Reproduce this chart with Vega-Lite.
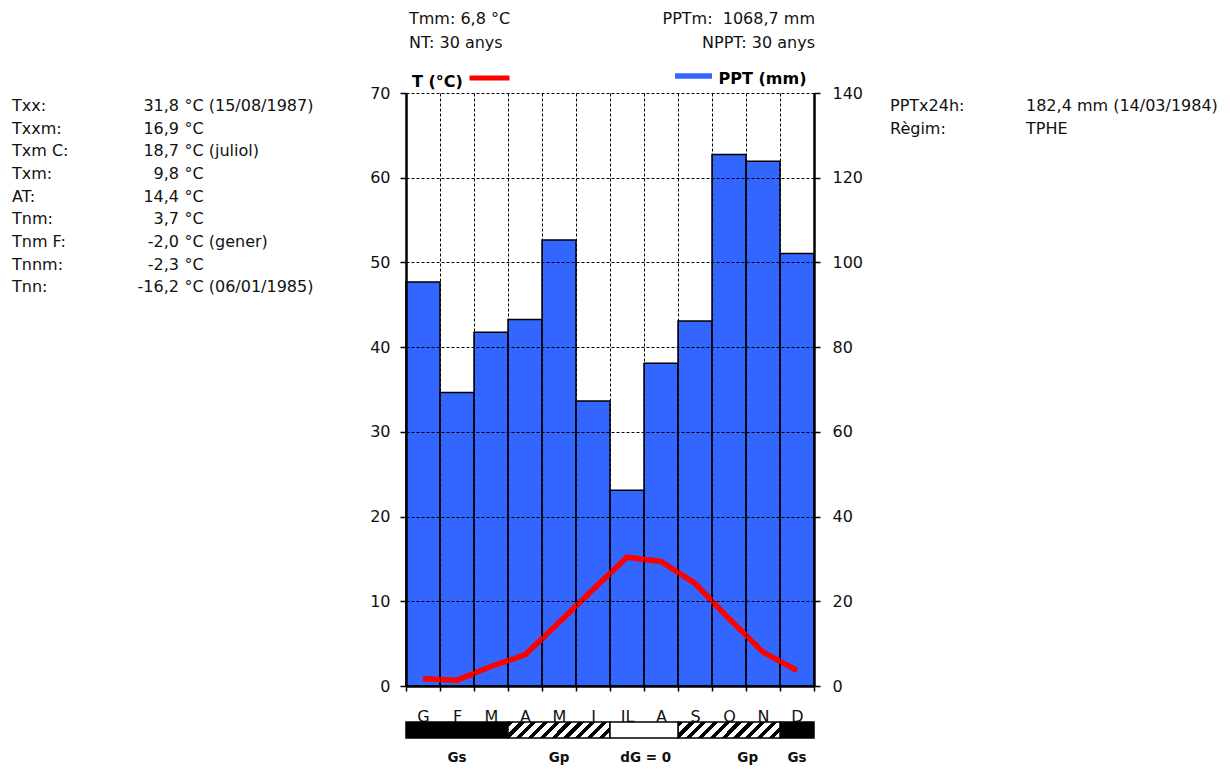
{
  "$schema": "https://vega.github.io/schema/vega-lite/v6.json",
  "background": "white",
  "padding": 0,
  "autosize": {"type": "pad"},
  "bounds": "flush",
  "columns": 3,
  "spacing": {"row": 36, "column": 0},
  "config": {
    "font": "DejaVu Sans",
    "view": {"stroke": null},
    "text": {"font": "DejaVu Sans", "fontSize": 16, "color": "#111111"},
    "axis": {"labelFont": "DejaVu Sans", "labelFontSize": 16, "labelColor": "#111111", "titleFont": "DejaVu Sans", "titleFontSize": 16, "titleColor": "#111111"},
    "locale": {
      "time": {
        "dateTime": "%A, %e de %B de %Y, %X",
        "date": "%d/%m/%Y",
        "time": "%H:%M:%S",
        "periods": ["AM", "PM"],
        "days": ["diumenge", "dilluns", "dimarts", "dimecres", "dijous", "divendres", "dissabte"],
        "shortDays": ["dg.", "dl.", "dt.", "dc.", "dj.", "dv.", "ds."],
        "months": ["gener", "febrer", "març", "abril", "maig", "juny", "juliol", "agost", "setembre", "octubre", "novembre", "desembre"],
        "shortMonths": ["G", "F", "M", "A", "M", "J", "JL", "A", "S", "O", "N", "D"]
      }
    }
  },
  "datasets": {
    "mesos": [
      {"mes": "2000-01-15", "ppt": 95.4, "t": 0.85},
      {"mes": "2000-02-15", "ppt": 69.3, "t": 0.69},
      {"mes": "2000-03-15", "ppt": 83.5, "t": 2.3},
      {"mes": "2000-04-15", "ppt": 86.5, "t": 3.68},
      {"mes": "2000-05-15", "ppt": 105.3, "t": 7.5},
      {"mes": "2000-06-15", "ppt": 67.3, "t": 11.4},
      {"mes": "2000-07-15", "ppt": 46.2, "t": 15.2},
      {"mes": "2000-08-15", "ppt": 76.2, "t": 14.7},
      {"mes": "2000-09-15", "ppt": 86.2, "t": 12.1},
      {"mes": "2000-10-15", "ppt": 125.5, "t": 7.95},
      {"mes": "2000-11-15", "ppt": 123.9, "t": 4.0},
      {"mes": "2000-12-15", "ppt": 102.1, "t": 1.83}
    ],
    "estadistiques": [
      {"fila": 1, "etiqueta": "Txx:", "valor": "31,8", "resta": "°C (15/08/1987)"},
      {"fila": 2, "etiqueta": "Txxm:", "valor": "16,9", "resta": "°C"},
      {"fila": 3, "etiqueta": "Txm C:", "valor": "18,7", "resta": "°C (juliol)"},
      {"fila": 4, "etiqueta": "Txm:", "valor": "9,8", "resta": "°C"},
      {"fila": 5, "etiqueta": "AT:", "valor": "14,4", "resta": "°C"},
      {"fila": 6, "etiqueta": "Tnm:", "valor": "3,7", "resta": "°C"},
      {"fila": 7, "etiqueta": "Tnm F:", "valor": "-2,0", "resta": "°C (gener)"},
      {"fila": 8, "etiqueta": "Tnnm:", "valor": "-2,3", "resta": "°C"},
      {"fila": 9, "etiqueta": "Tnn:", "valor": "-16,2", "resta": "°C (06/01/1985)"}
    ],
    "capcalera": [
      {"fila": 1, "costat": "esq", "text": "Tmm: 6,8 °C"},
      {"fila": 1, "costat": "dre", "text": "PPTm:\u00a0 1068,7 mm"},
      {"fila": 2, "costat": "esq", "text": "NT: 30 anys"},
      {"fila": 2, "costat": "dre", "text": "NPPT: 30 anys"}
    ],
    "precipitacio": [
      {"fila": 1, "etiqueta": "PPTx24h:", "valor": "182,4 mm (14/03/1984)"},
      {"fila": 2, "etiqueta": "Règim:", "valor": "TPHE"}
    ],
    "glacades": [
      {"inici": 0, "fi": 3, "tipus": "Gs"},
      {"inici": 3, "fi": 6, "tipus": "Gp"},
      {"inici": 6, "fi": 8, "tipus": "dG0"},
      {"inici": 8, "fi": 11, "tipus": "Gp"},
      {"inici": 11, "fi": 12, "tipus": "Gs"}
    ],
    "etiquetes_glacada": [
      {"posicio": 1.5, "nom": "Gs"},
      {"posicio": 4.5, "nom": "Gp"},
      {"posicio": 7.05, "nom": "dG = 0"},
      {"posicio": 10.05, "nom": "Gp"},
      {"posicio": 11.5, "nom": "Gs"}
    ],
    "buit": [{}]
  },
  "concat": [
    {
      "width": 406,
      "height": 57,
      "data": {"name": "estadistiques"},
      "encoding": {
        "y": {"field": "fila", "type": "ordinal", "scale": {"type": "point", "domain": [1, 2, 3, 4, 5, 6, 7, 8, 9], "range": [105.8, 287.4], "padding": 0}, "axis": null}
      },
      "layer": [
        {
          "mark": {"type": "text", "align": "left", "baseline": "middle"},
          "encoding": {
            "x": {"datum": "etiqueta", "type": "nominal", "scale": {"type": "point", "domain": ["etiqueta", "valor"], "range": [12, 179], "padding": 0}, "axis": null},
            "text": {"field": "etiqueta"}
          }
        },
        {
          "mark": {"type": "text", "align": "right", "baseline": "middle"},
          "encoding": {
            "x": {"datum": "valor", "type": "nominal"},
            "text": {"field": "valor"}
          }
        },
        {
          "mark": {"type": "text", "align": "left", "baseline": "middle", "dx": 5.5},
          "encoding": {
            "x": {"datum": "valor", "type": "nominal"},
            "text": {"field": "resta"}
          }
        }
      ]
    },
    {
      "width": 408,
      "height": 57,
      "data": {"name": "capcalera"},
      "encoding": {
        "y": {"field": "fila", "type": "ordinal", "scale": {"type": "point", "domain": [1, 2], "range": [19, 42.5], "padding": 0}, "axis": null},
        "x": {"field": "costat", "type": "nominal", "scale": {"type": "point", "domain": ["esq", "dre"], "range": [3, 409], "padding": 0}, "axis": null},
        "text": {"field": "text"}
      },
      "layer": [
        {"transform": [{"filter": "datum.costat === 'esq'"}], "mark": {"type": "text", "align": "left", "baseline": "middle"}},
        {"transform": [{"filter": "datum.costat === 'dre'"}], "mark": {"type": "text", "align": "right", "baseline": "middle"}}
      ]
    },
    {
      "width": 416,
      "height": 57,
      "data": {"name": "precipitacio"},
      "encoding": {
        "y": {"field": "fila", "type": "ordinal", "scale": {"type": "point", "domain": [1, 2], "range": [105.8, 128.5], "padding": 0}, "axis": null}
      },
      "layer": [
        {
          "mark": {"type": "text", "align": "left", "baseline": "middle"},
          "encoding": {
            "x": {"datum": "etiqueta", "type": "nominal", "scale": {"type": "point", "domain": ["etiqueta", "valor"], "range": [76, 212], "padding": 0}, "axis": null},
            "text": {"field": "etiqueta"}
          }
        },
        {
          "mark": {"type": "text", "align": "left", "baseline": "middle"},
          "encoding": {
            "x": {"datum": "valor", "type": "nominal"},
            "text": {"field": "valor"}
          }
        }
      ]
    },
    {
      "width": 406,
      "height": 593,
      "data": {"name": "buit"},
      "mark": {"type": "text", "text": ""}
    },
    {
      "width": 408,
      "height": 593,
      "data": {"name": "mesos"},
      "encoding": {
        "x": {
          "field": "mes", "timeUnit": "month", "type": "ordinal",
          "scale": {"paddingInner": 0, "paddingOuter": 0},
          "axis": {"title": null, "format": "%b", "labelAngle": 0, "tickBand": "extent", "grid": true, "gridColor": "black", "gridDash": [3, 2], "gridWidth": 1, "domainColor": "black", "domainWidth": 2.5, "tickColor": "black", "tickWidth": 1.5, "tickSize": 5, "labelPadding": 17.5, "zindex": 1}
        }
      },
      "layer": [
        {
          "mark": {"type": "bar", "stroke": "black", "strokeWidth": 1.5},
          "encoding": {
            "y": {
              "field": "ppt", "type": "quantitative",
              "scale": {"domain": [0, 140], "nice": false},
              "axis": {"orient": "right", "values": [0, 20, 40, 60, 80, 100, 120, 140], "grid": false, "title": "PPT (mm)", "titleAngle": 0, "titleAlign": "right", "titleBaseline": "alphabetic", "titleX": -8, "titleY": -9.5, "titleFontWeight": "bold", "titleColor": "black", "domainColor": "black", "domainWidth": 2.5, "tickColor": "black", "tickWidth": 1.5, "tickSize": 6, "labelPadding": 12, "zindex": 1}
            },
            "fill": {
              "datum": "PPT (mm)", "type": "nominal",
              "scale": {"range": ["#3366FF"]},
              "legend": {"orient": "none", "legendX": 675, "legendY": 57.5, "title": null, "symbolType": "M-1,-0.15L1,-0.15L1,0.15L-1,0.15Z", "symbolSize": 1369, "symbolStrokeWidth": 0, "labelExpr": "''", "padding": 0}
            }
          }
        },
        {
          "mark": {"type": "line", "strokeWidth": 5.5},
          "encoding": {
            "y": {
              "field": "t", "type": "quantitative",
              "scale": {"domain": [0, 70], "nice": false},
              "axis": {"orient": "left", "values": [0, 10, 20, 30, 40, 50, 60, 70], "grid": true, "gridColor": "black", "gridDash": [3, 2], "gridWidth": 1, "title": "T (°C)", "titleAngle": 0, "titleAlign": "left", "titleBaseline": "alphabetic", "titleX": 5.5, "titleY": -7, "titleFontWeight": "bold", "titleColor": "black", "domainColor": "black", "domainWidth": 2.5, "tickColor": "black", "tickWidth": 1.5, "tickSize": 6, "labelPadding": 10, "zindex": 1}
            },
            "stroke": {
              "datum": "T (°C)", "type": "nominal",
              "scale": {"range": ["#FF0000"]},
              "legend": {"orient": "none", "legendX": 467, "legendY": 55.5, "title": null, "symbolType": "stroke", "symbolSize": 1600, "symbolStrokeWidth": 5, "labelExpr": "''", "padding": 0}
            }
          }
        }
      ],
      "resolve": {"scale": {"y": "independent"}}
    },
    {
      "width": 416,
      "height": 593,
      "data": {"name": "buit"},
      "mark": {"type": "text", "text": ""}
    },
    {
      "width": 406,
      "height": 16,
      "data": {"name": "buit"},
      "mark": {"type": "text", "text": ""}
    },
    {
      "width": 408,
      "height": 16,
      "layer": [
        {
          "data": {"name": "glacades"},
          "transform": [{"filter": "datum.tipus === 'Gs'"}],
          "mark": {"type": "rect", "fill": "black", "stroke": "black", "strokeWidth": 1.5},
          "encoding": {
            "x": {"field": "inici", "type": "quantitative", "scale": {"domain": [0, 12], "nice": false, "zero": false}, "axis": null},
            "x2": {"field": "fi"}
          }
        },
        {
          "data": {"name": "glacades"},
          "transform": [{"filter": "datum.tipus === 'Gp'"}],
          "mark": {
            "type": "rect", "stroke": "black", "strokeWidth": 1.5,
            "fill": {
              "gradient": "linear", "x1": 0, "y1": 0, "x2": 1.129, "y2": 0.177,
              "stops": [
                {"offset": 0, "color": "#000000"}, {"offset": 0.045, "color": "#000000"}, {"offset": 0.045, "color": "#ffffff"}, {"offset": 0.1, "color": "#ffffff"},
                {"offset": 0.1, "color": "#000000"}, {"offset": 0.145, "color": "#000000"}, {"offset": 0.145, "color": "#ffffff"}, {"offset": 0.2, "color": "#ffffff"},
                {"offset": 0.2, "color": "#000000"}, {"offset": 0.245, "color": "#000000"}, {"offset": 0.245, "color": "#ffffff"}, {"offset": 0.3, "color": "#ffffff"},
                {"offset": 0.3, "color": "#000000"}, {"offset": 0.345, "color": "#000000"}, {"offset": 0.345, "color": "#ffffff"}, {"offset": 0.4, "color": "#ffffff"},
                {"offset": 0.4, "color": "#000000"}, {"offset": 0.445, "color": "#000000"}, {"offset": 0.445, "color": "#ffffff"}, {"offset": 0.5, "color": "#ffffff"},
                {"offset": 0.5, "color": "#000000"}, {"offset": 0.545, "color": "#000000"}, {"offset": 0.545, "color": "#ffffff"}, {"offset": 0.6, "color": "#ffffff"},
                {"offset": 0.6, "color": "#000000"}, {"offset": 0.645, "color": "#000000"}, {"offset": 0.645, "color": "#ffffff"}, {"offset": 0.7, "color": "#ffffff"},
                {"offset": 0.7, "color": "#000000"}, {"offset": 0.745, "color": "#000000"}, {"offset": 0.745, "color": "#ffffff"}, {"offset": 0.8, "color": "#ffffff"},
                {"offset": 0.8, "color": "#000000"}, {"offset": 0.845, "color": "#000000"}, {"offset": 0.845, "color": "#ffffff"}, {"offset": 0.9, "color": "#ffffff"},
                {"offset": 0.9, "color": "#000000"}, {"offset": 0.945, "color": "#000000"}, {"offset": 0.945, "color": "#ffffff"}, {"offset": 1, "color": "#ffffff"}
              ]
            }
          },
          "encoding": {
            "x": {"field": "inici", "type": "quantitative"},
            "x2": {"field": "fi"}
          }
        },
        {
          "data": {"name": "glacades"},
          "transform": [{"filter": "datum.tipus === 'dG0'"}],
          "mark": {"type": "rect", "fill": "white", "stroke": "black", "strokeWidth": 1.5},
          "encoding": {
            "x": {"field": "inici", "type": "quantitative"},
            "x2": {"field": "fi"}
          }
        },
        {
          "data": {"name": "etiquetes_glacada"},
          "mark": {"type": "text", "fontWeight": "bold", "fontSize": 13.5, "baseline": "middle", "dy": 28, "color": "#111111"},
          "encoding": {
            "x": {"field": "posicio", "type": "quantitative"},
            "text": {"field": "nom"}
          }
        }
      ]
    },
    {
      "width": 416,
      "height": 16,
      "data": {"name": "buit"},
      "mark": {"type": "text", "text": ""}
    }
  ]
}
